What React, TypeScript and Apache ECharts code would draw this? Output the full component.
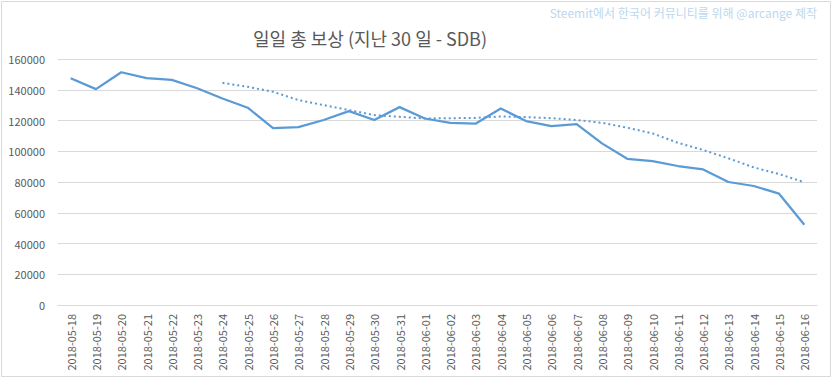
import React, { useEffect, useRef } from "react";
import * as echarts from "echarts";

const categories = [
  "2018-05-18", "2018-05-19", "2018-05-20", "2018-05-21", "2018-05-22", "2018-05-23",
  "2018-05-24", "2018-05-25", "2018-05-26", "2018-05-27", "2018-05-28", "2018-05-29",
  "2018-05-30", "2018-05-31", "2018-06-01", "2018-06-02", "2018-06-03", "2018-06-04",
  "2018-06-05", "2018-06-06", "2018-06-07", "2018-06-08", "2018-06-09", "2018-06-10",
  "2018-06-11", "2018-06-12", "2018-06-13", "2018-06-14", "2018-06-15", "2018-06-16",
];

const dailyRewards = [
  147500, 140400, 151400, 147500, 146400, 141000,
  134300, 128300, 115000, 115700, 120300, 126100,
  120300, 128700, 121300, 118500, 117900, 127800,
  119600, 116400, 117700, 105100, 95100, 93600,
  90400, 88200, 80000, 77400, 72400, 52200,
];

const movingAverage: (number | null)[] = [
  null, null, null, null, null, null,
  144500, 141900, 138700, 133300, 130000, 126800,
  123500, 122400, 121300, 121500, 121700, 122600,
  122200, 121500, 120300, 118500, 115300, 111600,
  105500, 100800, 95400, 89500, 85200, 79800,
];

const yTicks = { min: 0, max: 160000, interval: 20000 };

const titleText = "일일 총 보상 (지난 30 일 - SDB)";
const watermarkText = "Steemit에서 한국어 커뮤니티를 위해 @arcange 제작";

export default function App() {
  const ref = useRef<HTMLDivElement>(null);
  useEffect(() => {
    document.body.style.margin = "0";
    if (!ref.current) return;
    const chart = echarts.init(ref.current, null, { renderer: "svg" });
    const font = "'Noto Sans CJK KR', 'Noto Sans', sans-serif";
    chart.setOption({
      animation: false,
      backgroundColor: "#ffffff",
      textStyle: { fontFamily: font },
      graphic: [
        {
          type: "rect",
          shape: { x: 1.5, y: 1.5, width: 829, height: 375 },
          style: { fill: "none", stroke: "#D9D9D9", lineWidth: 1 },
          silent: true,
        },
        {
          type: "text",
          x: 370,
          y: 38,
          style: {
            text: titleText,
            fill: "#595959",
            font: `18px ${font}`,
            align: "center",
            verticalAlign: "middle",
          },
        },
        {
          type: "text",
          x: 817,
          y: 12,
          style: {
            text: watermarkText,
            fill: "#BDD7EE",
            font: `12px ${font}`,
            align: "right",
            verticalAlign: "middle",
          },
        },
      ],
      grid: { left: 58, right: 16, top: 59, bottom: 74, containLabel: false },
      xAxis: {
        type: "category",
        data: categories,
        boundaryGap: true,
        axisLine: { show: true, lineStyle: { color: "#D9D9D9" } },
        axisTick: { show: false },
        axisLabel: {
          rotate: 90,
          color: "#595959",
          fontSize: 11,
          margin: 9,
          interval: 0,
          fontFamily: font,
        },
        splitLine: { show: false },
      },
      yAxis: {
        type: "value",
        min: yTicks.min,
        max: yTicks.max,
        interval: yTicks.interval,
        axisLine: { show: false },
        axisTick: { show: false },
        axisLabel: {
          color: "#595959",
          fontSize: 11,
          margin: 13,
          fontFamily: font,
          formatter: (v: number) => String(v),
        },
        splitLine: { show: true, lineStyle: { color: "#D9D9D9", width: 1 } },
      },
      series: [
        {
          type: "line",
          data: dailyRewards,
          symbol: "none",
          lineStyle: { color: "#5B9BD5", width: 2.25 },
          itemStyle: { color: "#5B9BD5" },
        },
        {
          type: "line",
          data: movingAverage,
          symbol: "none",
          connectNulls: false,
          lineStyle: { color: "#5B9BD5", width: 2, type: [2, 3] },
          itemStyle: { color: "#5B9BD5" },
        },
      ],
    });
    return () => chart.dispose();
  }, []);
  return <div ref={ref} style={{ width: 833, height: 379 }} />;
}
